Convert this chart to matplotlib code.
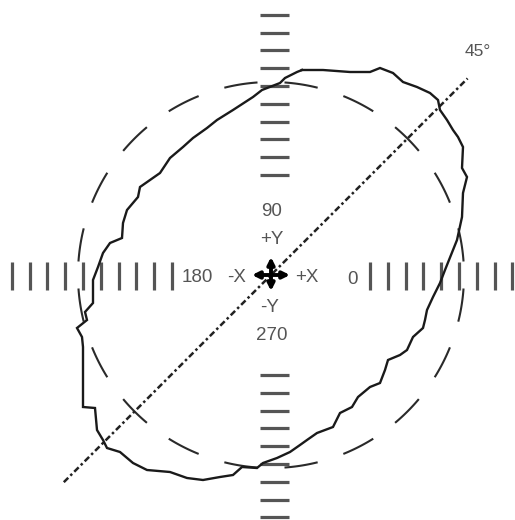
import numpy as np
import matplotlib
matplotlib.use('Agg')
import matplotlib.pyplot as plt

# traced contour (pixels relative to the centre, y up)
contour_x = [31, 26, 14, 9, -9, -18, -38, -54, -64, -78, -88, -101, -111, -121, -131, -133,
             -144, -148, -149, -161, -168, -173, -178, -178, -186, -184, -194, -189, -188, -188,
             -188, -176, -174, -168, -164, -151, -138, -124, -101, -84, -68, -51, -38, -29, -14,
             -8, 6, 19, 29, 36, 46, 62, 69, 81, 87, 99, 109, 114, 117, 129, 136, 142, 152, 154,
             156, 162, 169, 174, 186, 191, 192, 196, 191, 192, 187, 182, 176, 169, 167, 159, 146,
             132, 122, 109, 99, 79, 52, 31]
contour_y = [205, 203, 197, 192, 185, 178, 165, 155, 147, 137, 128, 117, 102, 95, 88, 78,
             65, 52, 37, 32, 22, 8, -5, -28, -37, -45, -53, -62, -72, -95,
             -132, -133, -155, -165, -173, -177, -188, -195, -197, -203, -205, -202, -200, -192, -193,
             -188, -183, -177, -170, -165, -158, -152, -138, -132, -122, -112, -108, -95, -85, -80,
             -75, -62, -53, -45, -35, -22, -8, 5, 35, 58, 82, 98, 107, 128, 138, 145, 155, 165, 175,
             182, 188, 193, 202, 207, 203, 203, 205, 205]

circle_r = 193
n_dashes = 20
dash_frac = 0.52
line_from, line_to = -293, 278
tick_pos = [99, 117, 135, 152, 170, 188, 206, 224, 241, 259]

labels = [('90', 1, 63), ('+Y', 1, 35), ('180', -74, -3), ('-X', -34, -3),
          ('+X', 36, -3), ('0', 81, -4), ('-Y', -1, -32), ('270', 1, -60)]

plt.rcParams['font.family'] = ['Liberation Sans', 'DejaVu Sans']

fig = plt.figure(figsize=(5.15, 5.2), dpi=100)
ax = fig.add_axes([0, 0, 1, 1])
ax.set_xlim(-271, 244)
ax.set_ylim(-245, 275)
ax.axis('off')

grey = '#555555'
# ticks along the axes
for p in tick_pos:
    for s in (-1, 1):
        ax.plot([s * p, s * p], [-15, 13], color=grey, lw=2.3, solid_capstyle='butt')
        ax.plot([-11, 18], [s * (p + 1), s * (p + 1)], color=grey, lw=2.3, solid_capstyle='butt')

# dashed circle
step = 360.0 / n_dashes
for k in range(n_dashes):
    mid = 45 + k * step
    t = np.radians(np.linspace(mid - step * dash_frac / 2, mid + step * dash_frac / 2, 20))
    ax.plot(circle_r * np.cos(t), circle_r * np.sin(t), color='#2a2a2a', lw=1.5)

# 45 degree line
d = np.array([line_from, line_to]) / np.sqrt(2)
ax.plot(d, d, color='#222222', lw=1.8, linestyle=(0, (2.5, 1.2, 1, 1.2)))

# measured contour
ax.plot(contour_x, contour_y, color='#1a1a1a', lw=1.7, solid_joinstyle='miter')

# centre cross arrows
ap = dict(arrowstyle='<|-|>', lw=2.8, color='black', mutation_scale=10, shrinkA=0, shrinkB=0)
ax.annotate('', xy=(-19, 0), xytext=(19, 0), arrowprops=ap)
ax.annotate('', xy=(0, -16), xytext=(0, 18), arrowprops=ap)

for txt, x, y in labels:
    ax.text(x, y, txt, ha='center', va='center', fontsize=13.5, color=grey)
ax.text(207, 223, '45°', ha='center', va='center', fontsize=12.5, color=grey)

fig.savefig('out.png', dpi=100)
